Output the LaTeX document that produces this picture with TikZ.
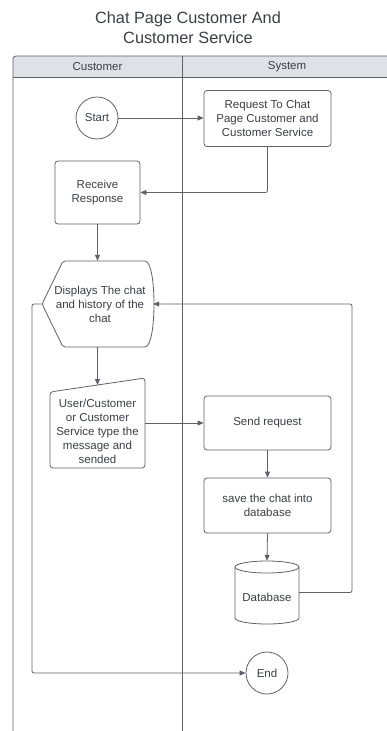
\documentclass[tikz,border=0pt]{standalone}
\usepackage{fontspec}
\setmainfont{Liberation Sans}
\usetikzlibrary{arrows.meta}
\definecolor{ln}{HTML}{5F6169}
\definecolor{txt}{HTML}{3A3E45}
\definecolor{hdr}{HTML}{DFE1E6}

\begin{document}
\begin{tikzpicture}[x=1pt,y=-1pt,
  font=\fontsize{11.5}{14}\selectfont, text=txt,
  line/.style={draw=ln, line width=0.8pt},
  flow/.style={line, rounded corners=2pt, -{Triangle[length=6pt,width=5pt]}},
  proc/.style={line, rounded corners=3pt, rectangle, align=center, inner sep=0pt},
  term/.style={line, circle, minimum size=42pt, inner sep=0pt},
  ghost/.style={rectangle, inner sep=0pt, align=center}]

\useasboundingbox (0,0) rectangle (387,731);

% title
\node[font=\fontsize{16.3}{20}\selectfont, align=center] (title) at (188,27.5)
  {Chat Page Customer And\\Customer Service};

% swimlane pool
\fill[hdr, rounded corners=3pt] (13,77) |- (392,56) [sharp corners] -- (392,77) -- cycle;
\draw[line, rounded corners=3pt] (13,731) |- (392,56);
\draw[line] (13,77) -- (392,77);
\draw[line] (182,56) -- (182,731);
\node (hcust) at (97.5,66.5) {Customer};
\node (hsys) at (287,66.5) {System};

% flow nodes
\node[term] (start) at (97,118) {Start};
\node[proc, minimum width=127pt, minimum height=56pt] (req) at (267.5,118.5)
  {Request To Chat\\Page Customer and\\Customer Service};
\node[proc, minimum width=85pt, minimum height=63pt] (recv) at (97.5,192.5) {Receive\\Response};

% display shape
\node[ghost, minimum width=111pt, minimum height=86pt] (disp) at (97.5,304) {};
\draw[line, rounded corners=2pt] (42,304) -- (63,261) -- (143,261)
  .. controls (157,261) and (157,347) .. (143,347) -- (63,347) -- cycle;
\node[ghost] (disptxt) at (100,304) {Displays The chat\\and history of the\\chat};

% manual input shape
\node[ghost, minimum width=95pt, minimum height=90pt] (inp) at (97.5,423) {};
\draw[line, rounded corners=3pt] (50,430) -- (50,392) -- (145,378) -- (145,468) -- (50,468) -- cycle;
\node[ghost] (inptxt) at (97.5,431) {User/Customer\\or Customer\\Service type the\\message and\\sended};
\coordinate (inptop) at (97.5,385);

\node[proc, minimum width=127pt, minimum height=54pt] (send) at (267.5,423) {Send request};
\node[proc, minimum width=127pt, minimum height=55pt] (save) at (267.5,505.5) {save the chat into\\database};

% database cylinder
\node[ghost, minimum width=64pt, minimum height=63pt] (db) at (267,592.5) {};
\draw[line] (235,567) -- (235,618) arc[start angle=180, end angle=0, x radius=32, y radius=6] -- (299,567);
\draw[line] (267,567) ellipse[x radius=32, y radius=6];
\node[ghost] (dbtxt) at (267,597) {Database};

\node[term] (end) at (267,673) {End};

% connectors
\coordinate (rloop) at (352,0);
\coordinate (lloop) at (32,0);
\draw[flow] (start.east) -- (start.east -| req.west);
\draw[flow] (req.south) |- (recv.east);
\draw[flow] (recv.south) -- (disp.north);
\draw[flow] (disp.south) -- (inptop);
\draw[flow] (inp.east) -- (send.west);
\draw[flow] (send.south) -- (save.north);
\draw[flow] (save.south) -- (db.north);
\draw[flow] (db.east) -- (db.east -| rloop) |- (disp.east);
\draw[flow] (disp.west) -- (disp.west -| lloop) |- (end.west);
\end{tikzpicture}
\end{document}
